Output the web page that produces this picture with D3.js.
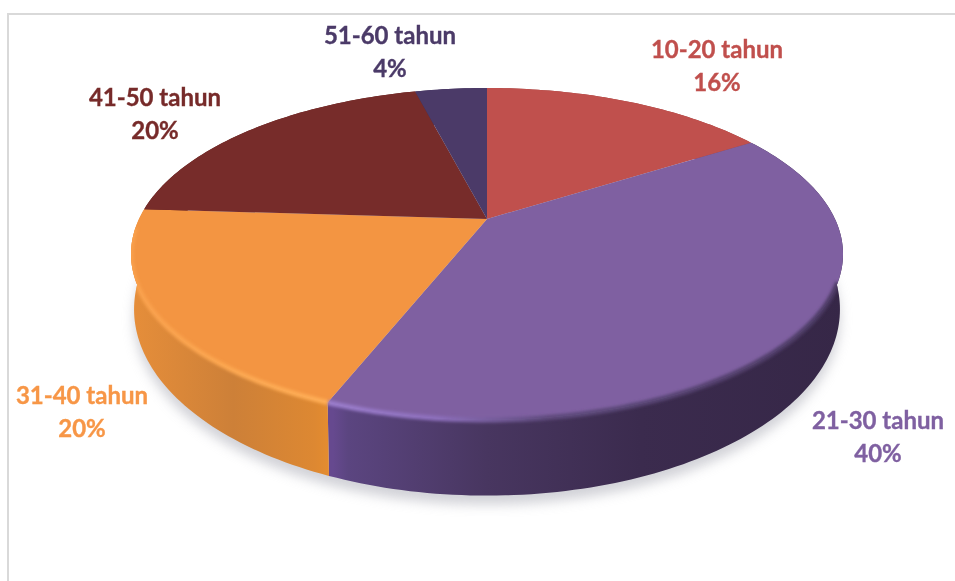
<!DOCTYPE html>
<html>
<head>
<meta charset="utf-8">
<script src="https://cdnjs.cloudflare.com/ajax/libs/d3/7.8.5/d3.min.js"></script>
<style>
  html, body { margin: 0; padding: 0; background: #fff; overflow: hidden; }
  text { font-family: Lato, "Open Sans", sans-serif; font-weight: 700; font-size: 24px; text-anchor: middle; stroke-width: 0.35px; }
</style>
</head>
<body>
<script>
// data
var categories = ["10-20 tahun", "21-30 tahun", "31-40 tahun", "41-50 tahun", "51-60 tahun"];
var values = [16, 40, 20, 20, 4];
var topColors = ["#c0504d", "#7f60a1", "#f39542", "#772c2a", "#4b3a68"];
var labelColors = ["#c0504d", "#7f60a1", "#f79646", "#772c2a", "#4b3a68"];

var width = 955, height = 581;

// perspective of the disc: apex is not the ellipse centre, far side is squeezed
var persp = 0.211;
var centerX = 487;
var topRim = {a: 348, b: 158.6, apexY: 219};
var bottomRim = {a: 345, b: 178, apexY: 270};

// label centre x and first baseline, same order as categories
var labelX = [717, 878, 82, 155, 390];
var labelY = [58, 429, 404, 106, 44];
var lineGap = 32.5;

function project(angle, rim) {
    var w = 1 + persp * Math.cos(angle);
    return [centerX + rim.a * Math.sin(angle) / w,
            rim.apexY - rim.b * Math.cos(angle) / w];
}

function arcPoints(start, end, rim) {
    var n = Math.max(2, Math.ceil((end - start) / 0.02));
    return d3.range(n + 1).map(function(i) {
        return project(start + (end - start) * i / n, rim);
    });
}

var line = d3.line();

var svg = d3.select("body").append("svg")
    .attr("width", width)
    .attr("height", height);

svg.append("rect").attr("width", width).attr("height", height).attr("fill", "#fff");

var defs = svg.append("defs");

function blurFilter(id, dev) {
    defs.append("filter").attr("id", id)
        .attr("filterUnits", "userSpaceOnUse")
        .attr("x", 0).attr("y", 0).attr("width", width).attr("height", height)
        .append("feGaussianBlur").attr("stdDeviation", dev);
}
blurFilter("shadowBlur", 6);
blurFilter("rimBlur", 1.6);
blurFilter("textBlur", 0.35);

function xGradient(id, x1, x2, stops) {
    var g = defs.append("linearGradient").attr("id", id)
        .attr("gradientUnits", "userSpaceOnUse")
        .attr("x1", x1).attr("x2", x2).attr("y1", 0).attr("y2", 0);
    stops.forEach(function(s) {
        g.append("stop").attr("offset", s[0]).attr("stop-color", s[1]);
    });
}

// wall shading, left to right
xGradient("wall1", 333, 845, [[0, "#66498f"], [0.03, "#5b4580"], [0.3, "#483660"], [0.6, "#3b2b4e"], [1, "#362747"]]);
xGradient("wall2", 131, 335, [[0, "#e68e3a"], [0.5, "#cd8038"], [0.9, "#dd8832"], [1, "#e88e2e"]]);
xGradient("rim1", 333, 845, [[0, "#9a7ccb"], [0.2, "#8d6fbc"], [0.42, "#5e4a7c"], [1, "#4c3a64"]]);
xGradient("rim2", 131, 335, [[0, "#f9a04c"], [1, "#ffae55"]]);

var pie = d3.pie().sort(null).value(function(d) { return d; });
var slices = pie(values);

// bevel must not bleed outside the disc
var wholeTop = arcPoints(0, 2 * Math.PI, topRim);
var wholeBottom = arcPoints(0, 2 * Math.PI, bottomRim);
var discClip = defs.append("clipPath").attr("id", "discClip");
discClip.append("path").attr("d", line(wholeTop) + "Z");
discClip.append("path").attr("d", line(wholeBottom) + "Z");

// frame of the chart area
svg.append("line").attr("x1", 8).attr("x2", width).attr("y1", 14).attr("y2", 14)
    .attr("stroke", "#d9d9d9").attr("stroke-width", 2);
svg.append("line").attr("x1", 8).attr("x2", 8).attr("y1", 13).attr("y2", height)
    .attr("stroke", "#d9d9d9").attr("stroke-width", 2);

// soft shadow under the disc
svg.append("path")
    .attr("d", line(wholeBottom) + "Z")
    .attr("transform", "translate(0,9)")
    .attr("fill", "#b9bac2")
    .attr("opacity", 0.65)
    .attr("filter", "url(#shadowBlur)");

// side walls
svg.append("g").selectAll("path")
    .data(slices)
    .enter().append("path")
    .attr("d", function(d) {
        var top = arcPoints(d.startAngle, d.endAngle, topRim);
        var bottom = arcPoints(d.startAngle, d.endAngle, bottomRim).reverse();
        return line(top.concat(bottom)) + "Z";
    })
    .attr("fill", function(d, i) {
        if (i === 1) return "url(#wall1)";
        if (i === 2) return "url(#wall2)";
        return d3.color(topColors[i]).darker(0.6);
    });

// top face
svg.append("g").selectAll("path")
    .data(slices)
    .enter().append("path")
    .attr("d", function(d) {
        var apex = [centerX, topRim.apexY];
        return line([apex].concat(arcPoints(d.startAngle, d.endAngle, topRim))) + "Z";
    })
    .attr("fill", function(d, i) { return topColors[i]; });

// bevel along the front rim
svg.append("g")
    .attr("clip-path", "url(#discClip)")
    .selectAll("path")
    .data(slices.filter(function(d, i) { return i === 1 || i === 2; }))
    .enter().append("path")
    .attr("d", function(d, i) {
        var start = i === 0 ? Math.PI * 0.62 : d.startAngle;
        return line(arcPoints(start, d.endAngle - (i === 1 ? 0.12 : 0), topRim));
    })
    .attr("fill", "none")
    .attr("stroke", function(d, i) { return i === 0 ? "url(#rim1)" : "url(#rim2)"; })
    .attr("stroke-width", 5)
    .attr("filter", "url(#rimBlur)");

// labels
var labels = svg.append("g").selectAll("g")
    .data(slices)
    .enter().append("g")
    .attr("fill", function(d, i) { return labelColors[i]; })
    .attr("stroke", function(d, i) { return labelColors[i]; })
    .attr("filter", "url(#textBlur)");

labels.append("text")
    .attr("x", function(d, i) { return labelX[i]; })
    .attr("y", function(d, i) { return labelY[i]; })
    .text(function(d, i) { return categories[i]; });

labels.append("text")
    .attr("x", function(d, i) { return labelX[i]; })
    .attr("y", function(d, i) { return labelY[i] + lineGap; })
    .text(function(d) { return d.value + "%"; });
</script>
</body>
</html>
